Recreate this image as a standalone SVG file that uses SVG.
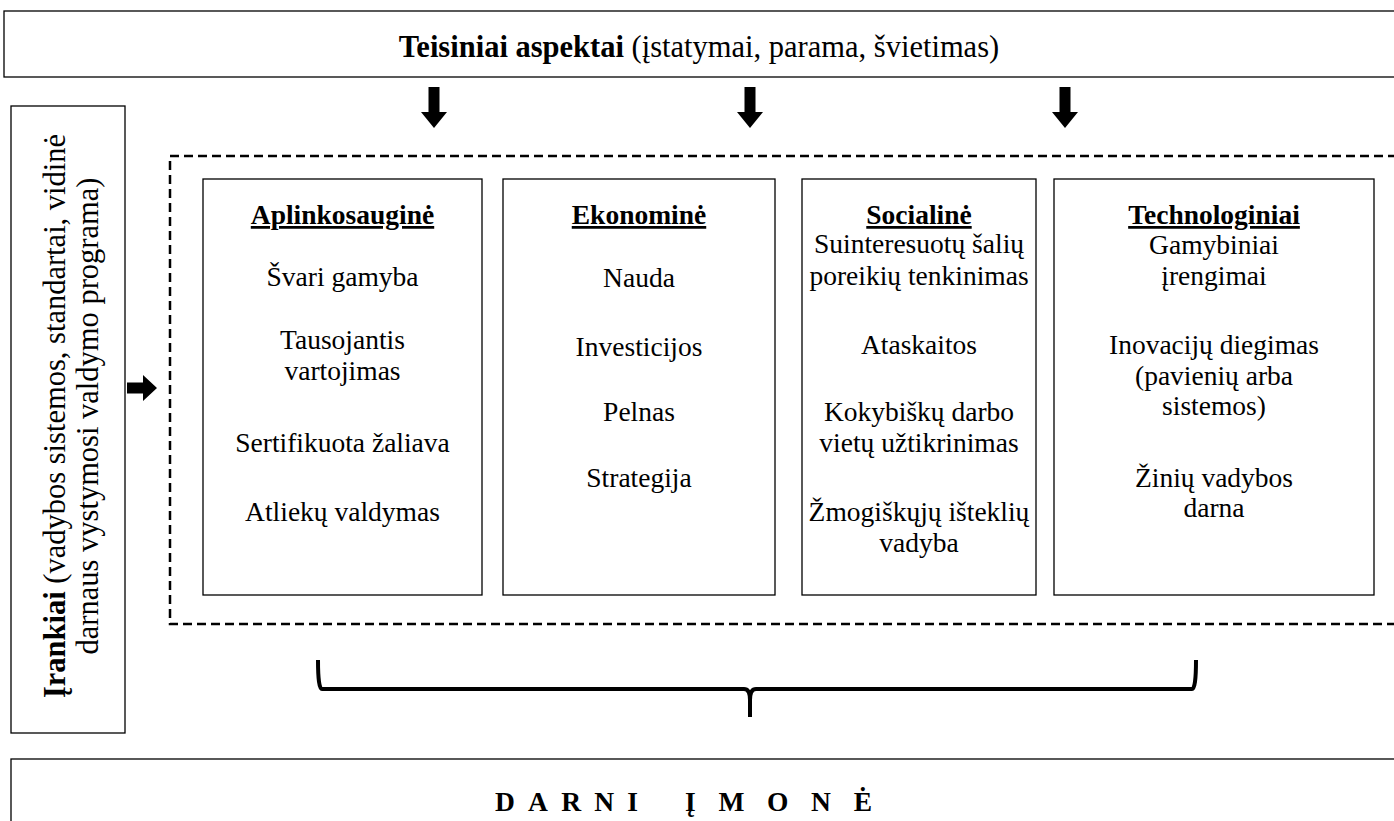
<svg xmlns="http://www.w3.org/2000/svg" width="1394" height="821" viewBox="0 0 1394 821">
<style>
  .t { font-family: "Liberation Serif", "Times New Roman", serif; font-size: 27.5px; fill: #000; }
  .big { font-size: 30.5px; }
  .c { text-anchor: middle; }
  .b { font-weight: bold; }
  .u { text-decoration: underline; }
  .box { fill: #fff; stroke: #000; stroke-width: 1.3; }
  .arr { fill: #000; stroke: none; }
</style>
<rect width="1394" height="821" fill="#fff"/>

<g id="legal">
  <rect class="box" x="4" y="11" width="1400" height="66"/>
  <text class="t big c" x="699" y="57"><tspan class="b">Teisiniai aspektai</tspan> (įstatymai, parama, švietimas)</text>
</g>

<g id="tools">
  <rect class="box" x="11" y="106" width="114" height="627"/>
  <text class="t big c" transform="translate(65,416) rotate(-90)"><tspan class="b">Įrankiai</tspan> (vadybos sistemos, standartai, vidinė</text>
  <text class="t big c" transform="translate(98,416) rotate(-90)">darnaus vystymosi valdymo programa)</text>
</g>

<g id="frame">
  <rect x="170" y="156" width="1240" height="468" fill="none" stroke="#000" stroke-width="2.5" stroke-dasharray="9,5"/>
</g>

<g id="aplinkosaugine">
  <rect class="box" x="203" y="179" width="279" height="416"/>
  <text class="t c b u" x="342.5" y="224">Aplinkosauginė</text>
  <text class="t c" x="342.5" y="286">Švari gamyba</text>
  <text class="t c" x="342.5" y="349">Tausojantis</text>
  <text class="t c" x="342.5" y="380">vartojimas</text>
  <text class="t c" x="342.5" y="452">Sertifikuota žaliava</text>
  <text class="t c" x="342.5" y="521">Atliekų valdymas</text>
</g>

<g id="ekonomine">
  <rect class="box" x="503" y="179" width="272" height="416"/>
  <text class="t c b u" x="639" y="224">Ekonominė</text>
  <text class="t c" x="639" y="287">Nauda</text>
  <text class="t c" x="639" y="356">Investicijos</text>
  <text class="t c" x="639" y="421">Pelnas</text>
  <text class="t c" x="639" y="487">Strategija</text>
</g>

<g id="socialine">
  <rect class="box" x="802" y="179" width="234" height="416"/>
  <text class="t c b u" x="919" y="224">Socialinė</text>
  <text class="t c" x="919" y="253">Suinteresuotų šalių</text>
  <text class="t c" x="919" y="285">poreikių tenkinimas</text>
  <text class="t c" x="919" y="354">Ataskaitos</text>
  <text class="t c" x="919" y="421">Kokybiškų darbo</text>
  <text class="t c" x="919" y="452">vietų užtikrinimas</text>
  <text class="t c" x="919" y="521">Žmogiškųjų išteklių</text>
  <text class="t c" x="919" y="552">vadyba</text>
</g>

<g id="technologiniai">
  <rect class="box" x="1054" y="179" width="320" height="416"/>
  <text class="t c b u" x="1214" y="224">Technologiniai</text>
  <text class="t c" x="1214" y="254">Gamybiniai</text>
  <text class="t c" x="1214" y="285">įrengimai</text>
  <text class="t c" x="1214" y="354">Inovacijų diegimas</text>
  <text class="t c" x="1214" y="385">(pavienių arba</text>
  <text class="t c" x="1214" y="415">sistemos)</text>
  <text class="t c" x="1214" y="487">Žinių vadybos</text>
  <text class="t c" x="1214" y="517">darna</text>
</g>

<g id="company">
  <rect class="box" x="11" y="759" width="1400" height="80"/>
  <text class="t b" x="495" y="811" textLength="143" lengthAdjust="spacing">DARNI</text>
  <text class="t b" x="685" y="811" textLength="187" lengthAdjust="spacing">ĮMONĖ</text>
</g>

<g id="connectors">
  <polygon class="arr" points="428.5,87 439.5,87 439.5,112 447,112 434,128 421,112 428.5,112"/>
  <polygon class="arr" points="744.5,87 755.5,87 755.5,112 763,112 750,128 737,112 744.5,112"/>
  <polygon class="arr" points="1059.5,87 1070.5,87 1070.5,112 1078,112 1065,128 1052,112 1059.5,112"/>
  <polygon class="arr" points="127,382.5 143,382.5 143,375 157,388 143,401 143,393.5 127,393.5"/>
  <path d="M318,660 Q318,689 322,689 L744,689 Q750,689 750,700 L750,717 M750,717 L750,700 Q750,689 756,689 L1192,689 Q1196,689 1196,660" fill="none" stroke="#000" stroke-width="4" stroke-linejoin="round"/>
</g>
</svg>
